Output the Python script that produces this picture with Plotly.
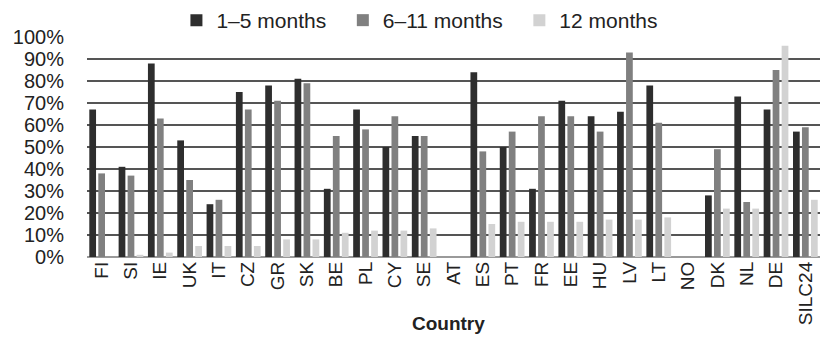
import plotly.graph_objects as go

countries = ["FI", "SI", "IE", "UK", "IT", "CZ", "GR", "SK", "BE", "PL", "CY", "SE", "AT",
             "ES", "PT", "FR", "EE", "HU", "LV", "LT", "NO", "DK", "NL", "DE", "SILC24"]
m1_5 = [67, 41, 88, 53, 24, 75, 78, 81, 31, 67, 50, 55, 0,
        84, 50, 31, 71, 64, 66, 78, 0, 28, 73, 67, 57]
m6_11 = [38, 37, 63, 35, 26, 67, 71, 79, 55, 58, 64, 55, 0,
         48, 57, 64, 64, 57, 93, 61, 0, 49, 25, 85, 59]
m12 = [0, 1, 2, 5, 5, 5, 8, 8, 11, 12, 12, 13, 0,
       15, 16, 16, 16, 17, 17, 18, 0, 22, 22, 96, 26]

series_names = ["1\u20135 months\u00a0\u00a0", "6\u201311 months\u00a0\u00a0", "12 months"]
colors = ["#2e2e2e", "#808080", "#d2d2d2"]

fig = go.Figure()
for name, vals, col in zip(series_names, [m1_5, m6_11, m12], colors):
    fig.add_trace(go.Bar(x=countries, y=vals, name=name, marker=dict(color=col, line=dict(width=0))))

font_family = "Liberation Sans, Arial, sans-serif"
fig.update_layout(
    width=820, height=339,
    margin=dict(l=87, r=0, t=36, b=82),
    paper_bgcolor="white", plot_bgcolor="white",
    barmode="group", bargap=0.08, bargroupgap=0.25,
    font=dict(family=font_family, size=19, color="#222222"),
    showlegend=True,
    legend=dict(orientation="h", x=0.122, xanchor="left", y=1.075, yanchor="middle",
                font=dict(size=21, color="#222222"), bgcolor="rgba(0,0,0,0)",
                itemwidth=30, traceorder="normal"),
    annotations=[dict(text="<b>Country</b>", xref="paper", yref="paper", x=0.4925, y=-0.303,
                      xanchor="center", yanchor="middle", showarrow=False,
                      font=dict(size=19, color="#222222", family=font_family))],
)
fig.update_xaxes(type="category", tickangle=-90, showgrid=False, showline=False, ticks="",
                 tickfont=dict(size=19), zeroline=False)
fig.update_yaxes(range=[0, 100], dtick=10, tick0=0, ticksuffix="%", showgrid=True,
                 gridcolor="#555555", gridwidth=1.5, zeroline=True, zerolinecolor="#9a9a9a",
                 zerolinewidth=2, showline=False, ticks="", ticklabelstandoff=22,
                 tickfont=dict(size=20))

fig.write_html("out.html", config={"displayModeBar": False},
               post_script="document.body.style.margin='0px';")
